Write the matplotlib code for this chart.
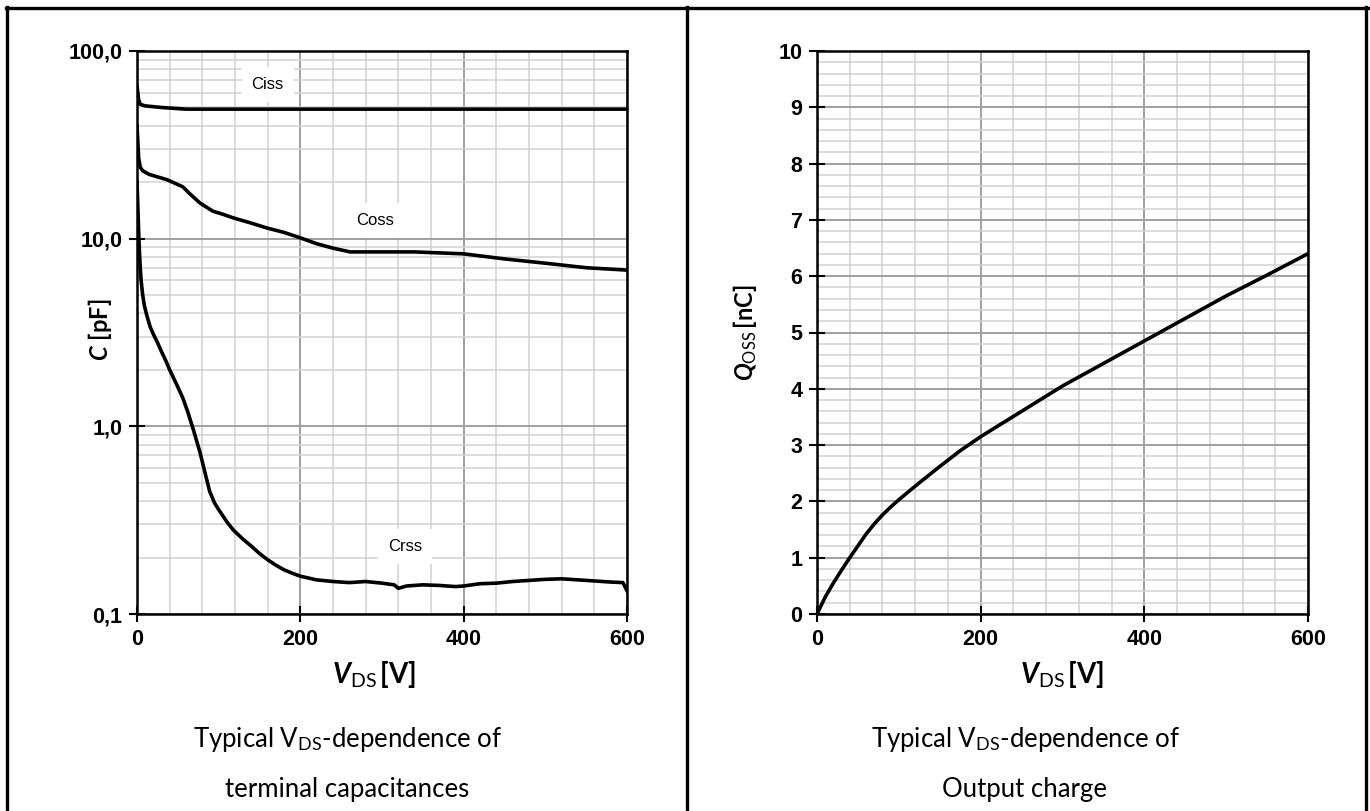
import matplotlib
matplotlib.use("Agg")
import matplotlib.pyplot as plt
from matplotlib.lines import Line2D
from matplotlib.ticker import MultipleLocator, LogLocator, FixedLocator, FixedFormatter, NullFormatter

plt.rcParams['font.family'] = 'Liberation Sans'
plt.rcParams['mathtext.fontset'] = 'custom'
plt.rcParams['mathtext.rm'] = 'Lato'
plt.rcParams['mathtext.it'] = 'Lato:italic'
plt.rcParams['mathtext.bf'] = 'Lato:bold'
plt.rcParams['mathtext.bfit'] = 'Lato:italic:bold'

# terminal capacitances [pF] vs V_DS [V]
ciss_v = [0, 1, 2, 4, 10, 30, 60, 100, 600]
ciss_c = [65, 60, 55, 52, 51, 50, 49, 49, 49]

coss_v = [0, 1, 2, 4, 7, 15, 37, 56, 65, 77, 93, 105, 118, 140, 159, 180, 200, 220, 240,
          261, 340, 400, 450, 500, 550, 600]
coss_c = [40, 33, 27, 24, 23, 22, 20.6, 18.9, 17.3, 15.5, 14.0, 13.5, 12.9, 12.1, 11.4,
          10.8, 10.1, 9.4, 8.9, 8.5, 8.5, 8.3, 7.8, 7.4, 7.0, 6.8]

crss_v = [0, 1, 2, 3, 4, 5, 7, 9, 12, 16, 20, 25, 30, 35, 40, 45, 50, 56, 62, 69, 77, 84,
          89, 95, 100, 110, 118, 130, 140, 150, 159, 170, 180, 190, 200, 220, 240, 260,
          280, 300, 315, 320, 330, 350, 370, 390, 400, 420, 440, 460, 480, 500, 520, 540,
          560, 580, 595, 600]
crss_c = [20, 15, 11, 8.5, 7.0, 6.0, 5.0, 4.4, 3.9, 3.4, 3.1, 2.8, 2.5, 2.25, 2.0, 1.8,
          1.62, 1.42, 1.2, 0.96, 0.73, 0.55, 0.45, 0.39, 0.36, 0.31, 0.28, 0.25, 0.23,
          0.21, 0.196, 0.182, 0.172, 0.165, 0.159, 0.152, 0.149, 0.147, 0.149, 0.146,
          0.143, 0.137, 0.141, 0.143, 0.142, 0.140, 0.141, 0.145, 0.146, 0.149, 0.151,
          0.153, 0.154, 0.152, 0.150, 0.148, 0.147, 0.133]

# output charge [nC] vs V_DS [V]
qoss_v = [0, 5, 10, 20, 30, 40, 50, 60, 70, 80, 90, 100, 125, 150, 175, 200, 250, 300,
          350, 400, 450, 500, 550, 600]
qoss_q = [0, 0.15, 0.3, 0.55, 0.78, 1.0, 1.21, 1.42, 1.6, 1.76, 1.9, 2.03, 2.33, 2.62,
          2.9, 3.15, 3.6, 4.05, 4.45, 4.85, 5.25, 5.65, 6.02, 6.4]

c_ticks = [0.1, 1, 10, 100]
c_tick_labels = ['0,1', '1,0', '10,0', '100,0']

W, H = 1370, 811
fig = plt.figure(figsize=(W / 100, H / 100), dpi=100)

# table frame around the two cells
for x in [7, 686.5, 1366]:
    fig.add_artist(Line2D([x / W, x / W], [0, 1 - 7 / H], color='black', lw=2.4))
fig.add_artist(Line2D([5.5 / W, 1367.5 / W], [1 - 7.5 / H, 1 - 7.5 / H], color='black', lw=2.4))


def style_axes(ax):
    ax.grid(True, which='major', color='#a0a0a0', lw=1.4)
    ax.grid(True, which='minor', color='#d2d2d2', lw=1.1)
    ax.set_axisbelow(True)
    for s in ax.spines.values():
        s.set_linewidth(1.8)
        s.set_color('black')
    ax.tick_params(which='major', direction='inout', length=11, width=1.5, pad=5,
                   labelsize=15.5)
    ax.tick_params(which='minor', length=0)
    plt.setp(ax.get_xticklabels() + ax.get_yticklabels(), fontweight='bold')


# left chart: capacitances
ax1 = fig.add_axes([137 / W, 1 - 614 / H, 490 / W, 563 / H])
ax1.plot(ciss_v, ciss_c, color='black', lw=2.6)
ax1.plot(coss_v, coss_c, color='black', lw=2.6)
ax1.plot(crss_v, crss_c, color='black', lw=2.6)
ax1.set_yscale('log')
ax1.set_xlim(0, 600)
ax1.set_ylim(0.1, 100)
ax1.xaxis.set_major_locator(MultipleLocator(200))
ax1.xaxis.set_minor_locator(MultipleLocator(40))
ax1.yaxis.set_major_locator(FixedLocator(c_ticks))
ax1.yaxis.set_major_formatter(FixedFormatter(c_tick_labels))
ax1.yaxis.set_minor_locator(LogLocator(base=10, subs=range(2, 10)))
ax1.yaxis.set_minor_formatter(NullFormatter())
style_axes(ax1)

lbl = dict(fontsize=12, ha='center', va='center',
           bbox=dict(boxstyle='square,pad=0.6', fc='white', ec='none'))
ax1.text(160, 66.7, 'Ciss', **lbl)
ax1.text(291, 12.5, 'Coss', **lbl)
ax1.text(328, 0.23, 'Crss', **lbl)

fig.text(374 / W, 1 - 675 / H, r'$\mathbfit{V}_{\mathrm{DS}}\,\mathbf{[V]}$', fontsize=20,
         ha='center', va='center')
fig.text(100 / W, 1 - 330 / H, r'$\mathbfit{C}\ \mathbf{[pF]}$', fontsize=17,
         ha='center', va='center', rotation=90)

# right chart: output charge
ax2 = fig.add_axes([817 / W, 1 - 614 / H, 491 / W, 563 / H])
ax2.plot(qoss_v, qoss_q, color='black', lw=2.6)
ax2.set_xlim(0, 600)
ax2.set_ylim(0, 10)
ax2.xaxis.set_major_locator(MultipleLocator(200))
ax2.xaxis.set_minor_locator(MultipleLocator(40))
ax2.yaxis.set_major_locator(MultipleLocator(1))
ax2.yaxis.set_minor_locator(MultipleLocator(0.2))
style_axes(ax2)

fig.text(1062 / W, 1 - 675 / H, r'$\mathbfit{V}_{\mathrm{DS}}\,\mathbf{[V]}$', fontsize=20,
         ha='center', va='center')
fig.text(745 / W, 1 - 333 / H, r'$\mathbfit{Q}_{\mathrm{OSS}}\,\mathbf{[nC]}$', fontsize=17,
         ha='center', va='center', rotation=90)

# captions
cap = dict(fontsize=18.5, ha='center', va='center', family='Lato')
fig.text(347 / W, 1 - 740 / H, r'Typical V$_{\mathrm{DS}}$-dependence of', **cap)
fig.text(347 / W, 1 - 790 / H, 'terminal capacitances', **cap)
fig.text(1025 / W, 1 - 740 / H, r'Typical V$_{\mathrm{DS}}$-dependence of', **cap)
fig.text(1025 / W, 1 - 790 / H, 'Output charge', **cap)

fig.savefig('out.png', dpi=100)
